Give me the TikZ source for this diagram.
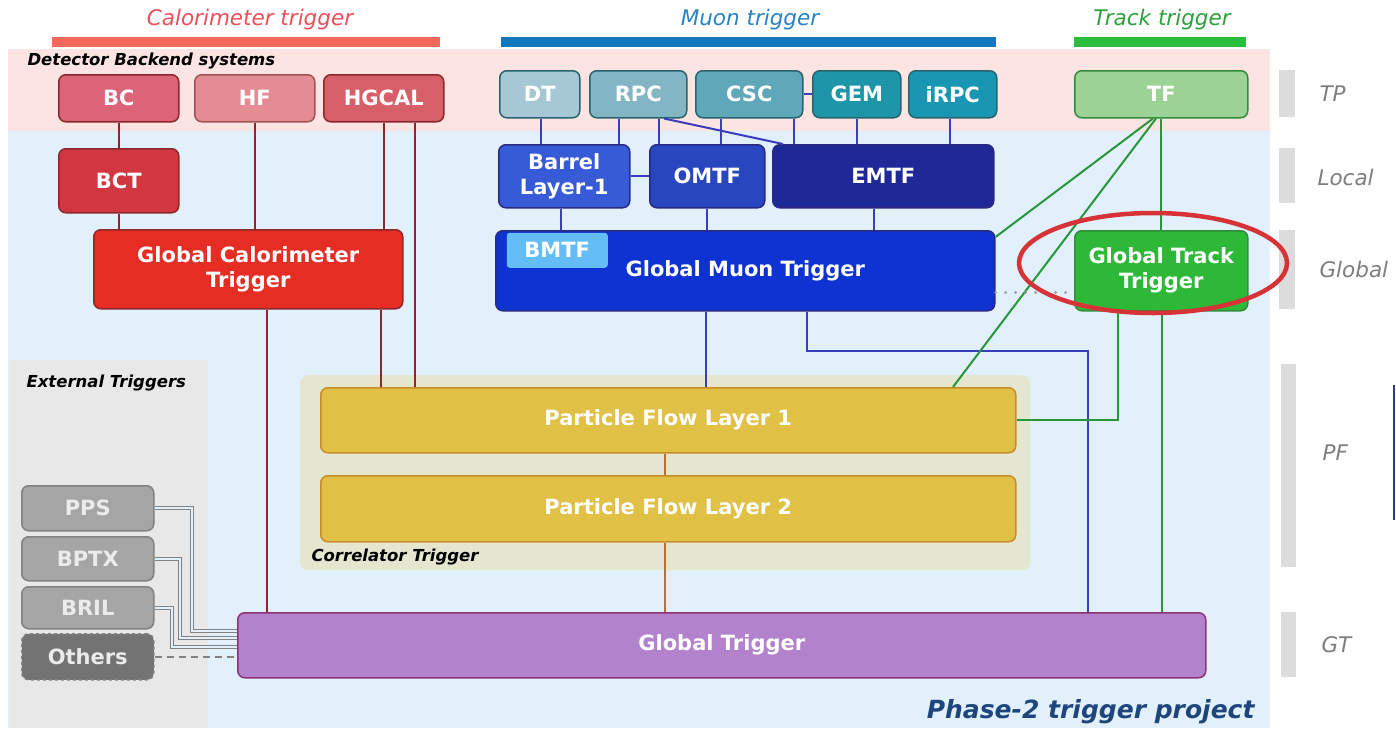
\documentclass[tikz,border=0pt]{standalone}
\usepackage{fontspec}
\setmainfont{DejaVu Sans}
\usetikzlibrary{calc}
\definecolor{bgblue}{RGB}{225,240,250}
\definecolor{bgpink}{RGB}{252,228,226}
\definecolor{bggray}{RGB}{232,232,232}
\definecolor{corrbg}{RGB}{228,230,208}
\definecolor{calT}{RGB}{235,80,90}
\definecolor{calB}{RGB}{245,105,90}
\definecolor{muT}{RGB}{40,130,195}
\definecolor{muB}{RGB}{20,120,190}
\definecolor{trT}{RGB}{45,160,60}
\definecolor{trB}{RGB}{40,190,60}
\definecolor{cBC}{RGB}{220,100,120}
\definecolor{cHF}{RGB}{228,140,148}
\definecolor{cHG}{RGB}{215,95,105}
\definecolor{cBCT}{RGB}{210,55,65}
\definecolor{cGCT}{RGB}{230,45,35}
\definecolor{calD}{RGB}{140,40,45}
\definecolor{cDT}{RGB}{165,200,212}
\definecolor{cRPC}{RGB}{130,182,196}
\definecolor{cCSC}{RGB}{95,168,186}
\definecolor{cGEM}{RGB}{30,150,170}
\definecolor{cIRPC}{RGB}{25,150,178}
\definecolor{muD}{RGB}{40,100,110}
\definecolor{cBL}{RGB}{55,90,215}
\definecolor{cOM}{RGB}{40,70,190}
\definecolor{cEM}{RGB}{30,40,150}
\definecolor{cGMT}{RGB}{15,50,210}
\definecolor{cBM}{RGB}{100,190,245}
\definecolor{muL}{RGB}{60,60,190}
\definecolor{cTF}{RGB}{155,210,150}
\definecolor{cGTT}{RGB}{45,185,55}
\definecolor{trD}{RGB}{50,140,60}
\definecolor{trL}{RGB}{40,150,60}
\definecolor{cPF}{RGB}{225,192,70}
\definecolor{pfD}{RGB}{200,140,40}
\definecolor{pfL}{RGB}{190,110,50}
\definecolor{cGT}{RGB}{178,130,205}
\definecolor{gtD}{RGB}{140,50,120}
\definecolor{cEXT}{RGB}{165,165,165}
\definecolor{extD}{RGB}{130,130,130}
\definecolor{cOTH}{RGB}{115,115,115}
\definecolor{ellR}{RGB}{215,50,55}
\definecolor{sideG}{RGB}{220,220,220}
\definecolor{sideT}{RGB}{125,125,125}
\definecolor{phT}{RGB}{30,70,125}
\definecolor{edgeB}{RGB}{40,60,140}
\newcommand\bxf{\bfseries\fontsize{21}{25}\selectfont}
\newcommand\hdf{\itshape\fontsize{21.5}{25}\selectfont}
\newcommand\smf{\bfseries\itshape\fontsize{16.5}{20}\selectfont}
\tikzset{
  box/.style={draw, rounded corners=7pt, line width=1.5pt, inner sep=0pt,
    anchor=north west, text=white, font=\bxf, align=center},
  calline/.style={draw=calD, line width=2pt},
  muline/.style={draw=muL, line width=2pt},
  trline/.style={draw=trL, line width=2pt},
  pfline/.style={draw=pfL, line width=2pt},
  extline/.style={draw=extD, double=bgblue, double distance=2.2pt, line width=1.1pt},
  sidebar/.style={fill=sideG},
  sidelab/.style={anchor=west, text=sideT, font=\hdf},
}
\begin{document}
\begin{tikzpicture}[x=1pt,y=-1pt]
\useasboundingbox (0,0) rectangle (1396,728);
% backgrounds
\fill[bgblue] (8,131) rectangle (1270,728);
\fill[bgpink] (8,49) rectangle (1270,131);
\fill[bggray] (10,360) rectangle (208,728);
\node[fill=corrbg, rounded corners=8pt, inner sep=0pt, minimum width=730, minimum height=195, anchor=north west] (CT) at (300,375) {};
% headers
\fill[calB] (52,37) rectangle (440,47);
\fill[muB] (501,37) rectangle (996,47);
\fill[trB] (1074,37) rectangle (1246,47);
\node[text=calT, font=\hdf] (hcal) at (250,20) {Calorimeter trigger};
\node[text=muT, font=\hdf] (hmu) at (750,20) {Muon trigger};
\node[text=trT, font=\hdf] (htr) at (1162,20) {Track trigger};
\node[anchor=west, font=\smf] (dbs) at (24,61) {Detector Backend systems};
\node[anchor=west, font=\smf] (ext) at (23,383) {External Triggers};
\node[anchor=west, font=\smf] (ctl) at (308,557) {Correlator Trigger};
\node[anchor=east, text=phT, font=\bfseries\itshape\fontsize{25}{30}\selectfont] (ph2) at (1258,712) {Phase-2 trigger project};
% side bars
\fill[sidebar] (1279,70) rectangle (1295,117);
\fill[sidebar] (1279,148) rectangle (1295,203);
\fill[sidebar] (1279,230) rectangle (1295,309);
\fill[sidebar] (1281,364) rectangle (1296,567);
\fill[sidebar] (1281,612) rectangle (1296,677);
\node[sidelab] (lTP) at (1316,94) {TP};
\node[sidelab] (lLoc) at (1314,177) {Local};
\node[sidelab] (lGlo) at (1316,269) {Global};
\node[sidelab] (lPF) at (1319,453) {PF};
\node[sidelab] (lGT) at (1318,645) {GT};
% calorimeter boxes
\node[box, fill=cBC, draw=calD, minimum width=120, minimum height=47] (BC) at (58,74) {BC};
\node[box, fill=cHF, draw=calD!80, minimum width=120, minimum height=47] (HF) at (194,74) {HF};
\node[box, fill=cHG, draw=calD, minimum width=120, minimum height=47] (HGCAL) at (323,74) {HGCAL};
\node[box, fill=cBCT, draw=calD, minimum width=120, minimum height=64] (BCT) at (58,148) {BCT};
\node[box, fill=cGCT, draw=calD, minimum width=309, minimum height=79] (GCT) at (93,229) {Global Calorimeter\\Trigger};
% muon boxes
\node[box, fill=cDT, draw=muD, minimum width=80, minimum height=47] (DT) at (499,70) {DT};
\node[box, fill=cRPC, draw=muD, minimum width=97, minimum height=47] (RPC) at (589,70) {RPC};
\node[box, fill=cCSC, draw=muD, minimum width=107, minimum height=47] (CSC) at (695,70) {CSC};
\node[box, fill=cGEM, draw=muD, minimum width=88, minimum height=47] (GEM) at (812,70) {GEM};
\node[box, fill=cIRPC, draw=muD, minimum width=88, minimum height=47] (iRPC) at (908,70) {iRPC};
\node[box, fill=cBL, draw=muL!70!black, minimum width=131, minimum height=63] (BL1) at (498,144) {Barrel\\Layer-1};
\node[box, fill=cOM, draw=muL!70!black, minimum width=115, minimum height=63] (OMTF) at (649,144) {OMTF};
\node[box, fill=cEM, draw=muL!70!black, minimum width=221, minimum height=63] (EMTF) at (772,144) {EMTF};
\node[box, fill=cGMT, draw=muL!70!black, minimum width=499, minimum height=80] (GMT) at (495,230) {Global Muon Trigger};
\node[box, fill=cBM, draw=none, rounded corners=3pt, minimum width=101, minimum height=35] (BMTF) at (506,232) {BMTF};
% track boxes
\node[box, fill=cTF, draw=trD, minimum width=173, minimum height=47] (TF) at (1074,70) {TF};
\node[box, fill=cGTT, draw=trD, minimum width=173, minimum height=80] (GTT) at (1074,230) {Global Track\\Trigger};
% PF and GT
\node[box, fill=cPF, draw=pfD, minimum width=695, minimum height=65] (PF1) at (320,387) {Particle Flow Layer 1};
\node[box, fill=cPF, draw=pfD, minimum width=695, minimum height=66] (PF2) at (320,475) {Particle Flow Layer 2};
\node[box, fill=cGT, draw=gtD, minimum width=968, minimum height=65] (GT) at (237,612) {Global Trigger};
% external
\node[box, fill=cEXT, draw=extD, text=white!92!black, minimum width=132, minimum height=45] (PPS) at (21,485) {PPS};
\node[box, fill=cEXT, draw=extD, text=white!92!black, minimum width=132, minimum height=44] (BPTX) at (21,536) {BPTX};
\node[box, fill=cEXT, draw=extD, text=white!92!black, minimum width=132, minimum height=42] (BRIL) at (21,586) {BRIL};
\node[box, fill=cOTH, draw=extD, dashed, text=white!92!black, minimum width=132, minimum height=46] (Others) at (21,633) {Others};
% calorimeter connectors
\draw[calline] (BC.south) -- (BCT.north);
\draw[calline] (BCT.south) -- (BCT.south |- GCT.north);
\draw[calline] (HF.south) -- (HF.south |- GCT.north);
\draw[calline] (HGCAL.south) -- (HGCAL.south |- GCT.north);
\draw[calline] (HGCAL.south -| 415,0) -- (415,0 |- PF1.north);
\draw[calline] (GCT.south -| 381,0) -- (381,0 |- PF1.north);
\draw[calline] (GCT.south -| 267,0) -- (267,0 |- GT.north);
% muon connectors
\draw[muline] (DT.south -| 541,0) -- (541,0 |- BL1.north);
\draw[muline] (RPC.south -| 619,0) -- (619,0 |- BL1.north);
\draw[muline] (RPC.south -| 659,0) -- (659,0 |- OMTF.north);
\draw[muline] (RPC.south -| 664,0) -- (EMTF.north -| 783,0);
\draw[muline] (CSC.south -| 721,0) -- (721,0 |- OMTF.north);
\draw[muline] (CSC.south -| 794,0) -- (794,0 |- EMTF.north);
\draw[muline] (GEM.south) -- (GEM.south |- EMTF.north);
\draw[muline] (iRPC.south -| 950,0) -- (950,0 |- EMTF.north);
\draw[muline] (CSC.east) -- (GEM.west);
\draw[muline] (BL1.east) -- (OMTF.west);
\draw[muline] (BL1.south -| 561,0) -- (561,0 |- GMT.north);
\draw[muline] (OMTF.south) -- (OMTF.south |- GMT.north);
\draw[muline] (EMTF.south -| 874,0) -- (874,0 |- GMT.north);
\draw[muline] (GMT.south -| 706,0) -- (706,0 |- PF1.north);
\draw[muline] (GMT.south -| 807,0) |- (1088,351) -- (1088,0 |- GT.north);
% track connectors
\draw[trline] (TF.south) -- (GTT.north);
\draw[trline] (TF.south -| 1153,0) -- (GMT.east |- 0,237);
\draw[trline] (TF.south -| 1156,0) -- (PF1.north -| 953,0);
\draw[trline] (GTT.south -| 1118,0) |- (PF1.east);
\draw[trline] (GTT.south -| 1162,0) -- (1162,0 |- GT.north);
\draw[gray!80, line width=3pt, line cap=round, dash pattern=on 0.01pt off 10pt] (GMT.east |- 0,292) -- (GTT.west |- 0,292);
% PF connectors
\draw[pfline] (PF1.south -| 665,0) -- (665,0 |- PF2.north);
\draw[pfline] (PF2.south -| 665,0) -- (665,0 |- GT.north);
% external connectors
\draw[extline] (PPS.east) -| (192,631) -- (GT.west |- 0,631);
\draw[extline] (BPTX.east) -| (180,638) -- (GT.west |- 0,638);
\draw[extline] (BRIL.east) -| (172,647) -- (GT.west |- 0,647);
\draw[extD, line width=2.2pt, dash pattern=on 7pt off 5pt] (Others.east) -- (GT.west |- Others.east);
% highlight
\draw[ellR, line width=4.5pt] (1153,263) ellipse [x radius=134, y radius=50];
% right edge line
\draw[edgeB, line width=2pt] (1394,385) -- (1394,520);
\end{tikzpicture}
\end{document}
